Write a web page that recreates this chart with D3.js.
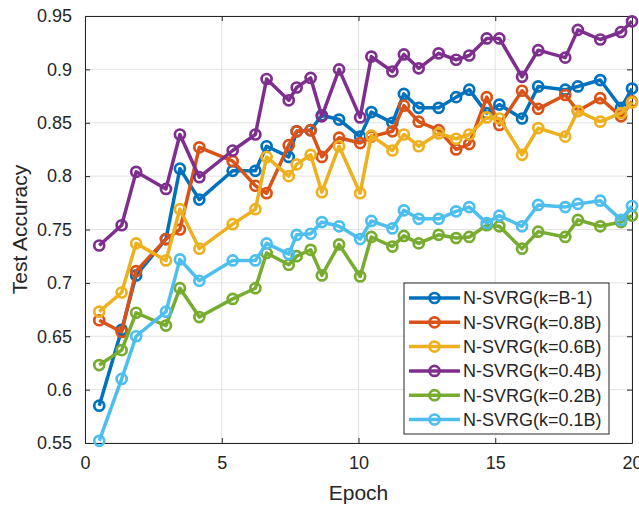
<!DOCTYPE html>
<html lang="en">
<head>
  <meta charset="UTF-8">
  <title>N-SVRG Test Accuracy</title>
  <style>
    body, html {
      margin: 0;
      padding: 0;
      background: #fff;
      font-family: Arial, "Liberation Sans", sans-serif;
    }
  </style>
</head>
<body>
  <svg id="svg" width="639" height="506"></svg>

  <script src="https://cdn.jsdelivr.net/npm/d3@7"></script>
  <script>
    const epochs = [0.52, 1.34, 1.87, 2.96, 3.47, 4.18, 5.40, 6.23, 6.64, 7.45, 7.74, 8.25, 8.66, 9.29, 10.06, 10.47,
      11.24, 11.66, 12.20, 12.93, 13.57, 14.05, 14.69, 15.15, 15.98, 16.57, 17.56, 18.02, 18.84, 19.60, 20.0];

    const accBm1 = [0.585, 0.656, 0.707, 0.741, 0.807, 0.778, 0.805, 0.805, 0.828, 0.818, 0.842, 0.843, 0.857, 0.853, 0.837, 0.860,
      0.850, 0.877, 0.864, 0.864, 0.874, 0.881, 0.859, 0.867, 0.854, 0.884, 0.881, 0.884, 0.890, 0.864, 0.882];
    const acc08 = [0.665, 0.654, 0.711, 0.741, 0.750, 0.827, 0.814, 0.791, 0.784, 0.829, 0.842, 0.843, 0.818, 0.836, 0.831, 0.837,
      0.842, 0.866, 0.851, 0.843, 0.825, 0.830, 0.874, 0.848, 0.880, 0.863, 0.876, 0.861, 0.873, 0.856, 0.870];
    const acc06 = [0.673, 0.691, 0.737, 0.721, 0.769, 0.732, 0.755, 0.769, 0.818, 0.800, 0.811, 0.820, 0.785, 0.828, 0.784, 0.838,
      0.824, 0.839, 0.828, 0.840, 0.835, 0.839, 0.855, 0.854, 0.820, 0.845, 0.837, 0.861, 0.851, 0.859, 0.869];
    const acc04 = [0.735, 0.754, 0.804, 0.788, 0.839, 0.799, 0.824, 0.839, 0.891, 0.871, 0.883, 0.892, 0.856, 0.900, 0.855, 0.912,
      0.898, 0.914, 0.901, 0.915, 0.909, 0.913, 0.929, 0.929, 0.893, 0.918, 0.911, 0.937, 0.928, 0.935, 0.945];
    const acc02 = [0.623, 0.637, 0.672, 0.660, 0.695, 0.668, 0.685, 0.695, 0.728, 0.717, 0.725, 0.731, 0.707, 0.736, 0.706, 0.743,
      0.734, 0.744, 0.737, 0.745, 0.742, 0.743, 0.754, 0.753, 0.732, 0.748, 0.743, 0.759, 0.753, 0.757, 0.763];
    const acc01 = [0.552, 0.610, 0.650, 0.673, 0.722, 0.702, 0.721, 0.721, 0.737, 0.727, 0.745, 0.746, 0.757, 0.753, 0.741, 0.758,
      0.751, 0.768, 0.760, 0.760, 0.767, 0.771, 0.756, 0.763, 0.753, 0.773, 0.771, 0.774, 0.777, 0.759, 0.772];

    const seriesNames = ['N-SVRG(k=B-1)', 'N-SVRG(k=0.8B)', 'N-SVRG(k=0.6B)', 'N-SVRG(k=0.4B)', 'N-SVRG(k=0.2B)', 'N-SVRG(k=0.1B)'];
    const seriesValues = [accBm1, acc08, acc06, acc04, acc02, acc01];

    const xTicks = [0, 5, 10, 15, 20];
    const xTickLabels = ['0', '5', '10', '15', '20'];
    const yTicks = [0.55, 0.6, 0.65, 0.7, 0.75, 0.8, 0.85, 0.9, 0.95];
    const yTickLabels = ['0.55', '0.6', '0.65', '0.7', '0.75', '0.8', '0.85', '0.9', '0.95'];

    const colors = ['#0072BD', '#D95319', '#EDB120', '#7E2F8E', '#77AC30', '#4DBEEE'];
    const ink = '#262626';

    const margin = { top: 16, right: 7, bottom: 63, left: 85 };
    const width = 639 - margin.left - margin.right;
    const height = 506 - margin.top - margin.bottom;

    const svg = d3.select('#svg');
    const g = svg.append('g')
      .attr('transform', `translate(${margin.left},${margin.top})`);

    const xScale = d3.scaleLinear().domain([0, 20]).range([0, width]);
    const yScale = d3.scaleLinear().domain([0.55, 0.95]).range([height, 0]);

    // grid
    g.append('g')
      .selectAll('line')
      .data(xTicks)
      .enter()
      .append('line')
      .attr('x1', d => xScale(d)).attr('x2', d => xScale(d))
      .attr('y1', 0).attr('y2', height)
      .attr('stroke', '#e3e3e3').attr('stroke-width', 1);
    g.append('g')
      .selectAll('line')
      .data(yTicks)
      .enter()
      .append('line')
      .attr('y1', d => yScale(d)).attr('y2', d => yScale(d))
      .attr('x1', 0).attr('x2', width)
      .attr('stroke', '#e3e3e3').attr('stroke-width', 1);

    // axes (ticks inside, box all round)
    const tickLen = 5;
    const styleAxis = sel => {
      sel.select('.domain').attr('stroke', ink);
      sel.selectAll('.tick line').attr('stroke', ink);
      sel.selectAll('.tick text')
        .attr('fill', ink)
        .style('font-size', '18px')
        .style('font-family', 'Arial, "Liberation Sans", sans-serif');
    };

    g.append('g')
      .attr('transform', `translate(0,${height})`)
      .call(d3.axisBottom(xScale).tickValues(xTicks)
        .tickFormat((d, i) => xTickLabels[i])
        .tickSizeInner(-tickLen).tickSizeOuter(0).tickPadding(13))
      .call(styleAxis);
    g.append('g')
      .call(d3.axisTop(xScale).tickValues(xTicks).tickFormat('')
        .tickSizeInner(-tickLen).tickSizeOuter(0))
      .call(styleAxis);
    g.append('g')
      .call(d3.axisLeft(yScale).tickValues(yTicks)
        .tickFormat((d, i) => yTickLabels[i])
        .tickSizeInner(-tickLen).tickSizeOuter(0).tickPadding(13))
      .call(styleAxis);
    g.append('g')
      .attr('transform', `translate(${width},0)`)
      .call(d3.axisRight(yScale).tickValues(yTicks).tickFormat('')
        .tickSizeInner(-tickLen).tickSizeOuter(0))
      .call(styleAxis);

    // lines + markers
    const linegen = d3.line()
      .x((d, i) => xScale(epochs[i]))
      .y(d => yScale(d));

    seriesValues.forEach((vals, s) => {
      const sg = g.append('g');
      sg.append('path')
        .datum(vals)
        .attr('d', linegen)
        .attr('fill', 'none')
        .attr('stroke', colors[s])
        .attr('stroke-width', 3.5)
        .attr('stroke-linejoin', 'round');
      sg.selectAll('circle')
        .data(vals)
        .enter()
        .append('circle')
        .attr('cx', (d, i) => xScale(epochs[i]))
        .attr('cy', d => yScale(d))
        .attr('r', 5)
        .attr('fill', 'none')
        .attr('stroke', colors[s])
        .attr('stroke-width', 2.7);
    });

    // axis labels
    svg.append('text')
      .attr('x', margin.left + width / 2)
      .attr('y', 500)
      .attr('text-anchor', 'middle')
      .attr('fill', ink)
      .style('font-size', '21px')
      .text('Epoch');

    svg.append('text')
      .attr('transform', `translate(27,${margin.top + height / 2}) rotate(-90)`)
      .attr('text-anchor', 'middle')
      .attr('fill', ink)
      .style('font-size', '21px')
      .text('Test Accuracy');

    // legend
    const legend = svg.append('g');
    legend.append('rect')
      .attr('x', 404).attr('y', 283)
      .attr('width', 205).attr('height', 151)
      .attr('fill', '#fff')
      .attr('stroke', ink)
      .attr('stroke-width', 1);

    seriesNames.forEach((name, s) => {
      const yy = 298 + s * 24.3;
      legend.append('line')
        .attr('x1', 409).attr('x2', 460)
        .attr('y1', yy).attr('y2', yy)
        .attr('stroke', colors[s])
        .attr('stroke-width', 3.5);
      legend.append('circle')
        .attr('cx', 434.5).attr('cy', yy).attr('r', 5)
        .attr('fill', 'none')
        .attr('stroke', colors[s])
        .attr('stroke-width', 2.7);
      legend.append('text')
        .attr('x', 463).attr('y', yy)
        .attr('dy', '0.35em')
        .attr('fill', ink)
        .style('font-size', '18px')
        .text(name);
    });
  </script>
</body>
</html>
